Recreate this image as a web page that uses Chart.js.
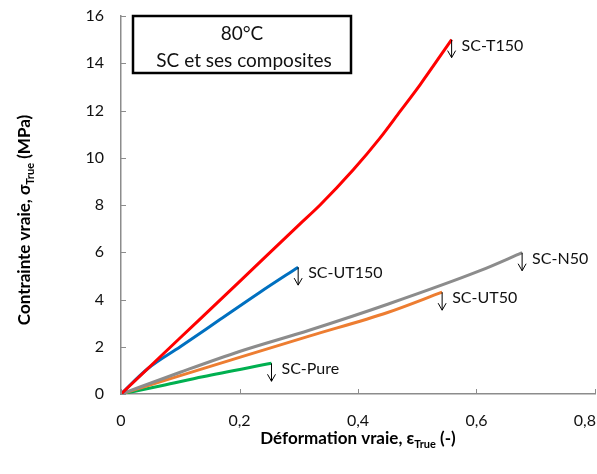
<!DOCTYPE html>
<html>
<head>
<meta charset="utf-8">
<script src="https://cdn.jsdelivr.net/npm/chart.js@4.4.1/dist/chart.umd.min.js"></script>
<style>
  html, body { margin: 0; padding: 0; background: #fff; }
  #wrap { width: 597px; height: 474px; position: relative; }
</style>
</head>
<body>
<div id="wrap"><canvas id="chart"></canvas></div>
<script>
// values
const seriesNames = ['SC-T150', 'SC-UT150', 'SC-N50', 'SC-UT50', 'SC-Pure'];
const strainT150 = [0, 0.1, 0.2, 0.3, 0.336, 0.392, 0.437, 0.471, 0.505, 0.558];
const stressT150 = [0, 2.38, 4.76, 7.15, 8.0, 9.49, 10.83, 11.96, 13.1, 15.0];
const strainUT150 = [0, 0.045, 0.1, 0.167, 0.234, 0.299];
const stressUT150 = [0, 1.07, 2.0, 3.15, 4.3, 5.37];
const strainN50 = [0, 0.1, 0.2, 0.319, 0.45, 0.606, 0.677];
const stressN50 = [0, 0.92, 1.8, 2.71, 3.8, 5.22, 5.98];
const strainUT50 = [0, 0.1, 0.2, 0.319, 0.45, 0.542];
const stressUT50 = [0, 0.78, 1.55, 2.46, 3.45, 4.31];
const strainPure = [0, 0.07, 0.138, 0.254];
const stressPure = [0, 0.36, 0.73, 1.3];
const xTicks = [0, 0.2, 0.4, 0.6, 0.8];
const yTicks = [0, 2, 4, 6, 8, 10, 12, 14, 16];
const boxLines = ['80°C', 'SC et ses composites'];

const colors = ['#ff0000', '#0070c0', '#8c8c8c', '#ed7d31', '#00b050'];
const FONT = 'Lato, "Open Sans", sans-serif';

const xs = [strainT150, strainUT150, strainN50, strainUT50, strainPure];
const ys = [stressT150, stressUT150, stressN50, stressUT50, stressPure];

const datasets = seriesNames.map((name, i) => ({
    label: name,
    data: xs[i].map((x, k) => ({ x, y: ys[i][k] })),
    borderColor: colors[i],
    borderWidth: 3,
    pointRadius: 0,
    cubicInterpolationMode: 'monotone',
    fill: false
}));

const fmt = v => v === 0 ? '0' : v.toFixed(1).replace('.', ',');

const annotate = {
    id: 'annotate',
    afterDraw(chart) {
        const { ctx, chartArea: a, scales: { x, y } } = chart;
        const W = chart.width;
        ctx.save();

        // inward tick marks
        ctx.strokeStyle = '#8c8c8c';
        ctx.lineWidth = 1;
        ctx.beginPath();
        xTicks.forEach(v => {
            const px = Math.round(x.getPixelForValue(v)) + 0.5;
            ctx.moveTo(px, a.bottom); ctx.lineTo(px, a.bottom - 5);
        });
        yTicks.forEach(v => {
            const py = Math.round(y.getPixelForValue(v)) + 0.5;
            ctx.moveTo(a.left, py); ctx.lineTo(a.left + 5, py);
        });
        ctx.stroke();

        // x tick labels, the last one kept inside the canvas
        ctx.fillStyle = '#111';
        ctx.font = '16px ' + FONT;
        ctx.textBaseline = 'middle';
        ctx.textAlign = 'center';
        xTicks.forEach(v => {
            const t = fmt(v);
            const w = ctx.measureText(t).width;
            const px = Math.min(x.getPixelForValue(v), W - w / 2 - 1);
            ctx.fillText(t, px, a.bottom + 27);
        });

        // end-of-test arrows and labels
        ctx.strokeStyle = '#000';
        ctx.textAlign = 'left';
        datasets.forEach((ds, i) => {
            const last = ds.data[ds.data.length - 1];
            const px = x.getPixelForValue(last.x);
            const py = y.getPixelForValue(last.y);
            ctx.beginPath();
            ctx.moveTo(px, py);
            ctx.lineTo(px, py + 18);
            ctx.moveTo(px - 4, py + 11);
            ctx.lineTo(px, py + 18);
            ctx.lineTo(px + 4, py + 11);
            ctx.stroke();
            ctx.fillText(seriesNames[i], px + 10, py + 6);
        });

        // title box
        const bx = a.left + 12, by = a.top, bw = 218, bh = 57;
        ctx.lineWidth = 2.5;
        ctx.strokeRect(bx, by, bw, bh);
        ctx.font = '19px ' + FONT;
        ctx.textAlign = 'center';
        ctx.fillText(boxLines[0], bx + bw / 2, by + 18);
        ctx.fillText(boxLines[1], bx + bw / 2 + 2, by + 45);

        // axis titles with subscripts
        ctx.fillStyle = '#000';
        const drawTitle = (parts, cx, cy) => {
            let w = 0;
            parts.forEach(p => { ctx.font = p.f; w += ctx.measureText(p.t).width; });
            let cur = cx - w / 2;
            ctx.textAlign = 'left';
            parts.forEach(p => {
                ctx.font = p.f;
                ctx.fillText(p.t, cur, cy + (p.dy || 0));
                cur += ctx.measureText(p.t).width;
            });
        };
        const big = 'bold 17px ' + FONT, small = 'bold 11px ' + FONT;
        drawTitle([
            { t: 'Déformation vraie, ε', f: big },
            { t: 'True', f: small, dy: 5 },
            { t: ' (-)', f: big }
        ], (a.left + a.right) / 2, 439);

        ctx.translate(25, 220);
        ctx.rotate(-Math.PI / 2);
        drawTitle([
            { t: 'Contrainte vraie, σ', f: big },
            { t: 'True', f: small, dy: 5 },
            { t: ' (MPa)', f: big }
        ], 0, 0);
        ctx.restore();
    }
};

new Chart(document.getElementById('chart'), {
    type: 'line',
    data: { datasets },
    options: {
        responsive: true,
        maintainAspectRatio: false,
        animation: false,
        layout: { padding: { top: 16, right: 2, left: 0, bottom: 0 } },
        plugins: { legend: { display: false }, tooltip: { enabled: false } },
        scales: {
            x: {
                type: 'linear', min: 0, max: 0.8,
                afterFit: s => { s.height = 80; s.paddingLeft = 0; s.paddingRight = 0; },
                grid: { display: false, drawTicks: false },
                border: { display: true, color: '#8c8c8c', width: 1.5 },
                ticks: { display: false, stepSize: 0.2 }
            },
            y: {
                type: 'linear', min: 0, max: 16,
                afterFit: s => { s.width = 121; s.paddingTop = 0; s.paddingBottom = 0; },
                grid: { display: false, drawTicks: false },
                border: { display: true, color: '#8c8c8c', width: 1.5 },
                ticks: { stepSize: 2, padding: 17, color: '#111', font: { family: FONT, size: 16 } }
            }
        }
    },
    plugins: [annotate]
});
</script>
</body>
</html>
